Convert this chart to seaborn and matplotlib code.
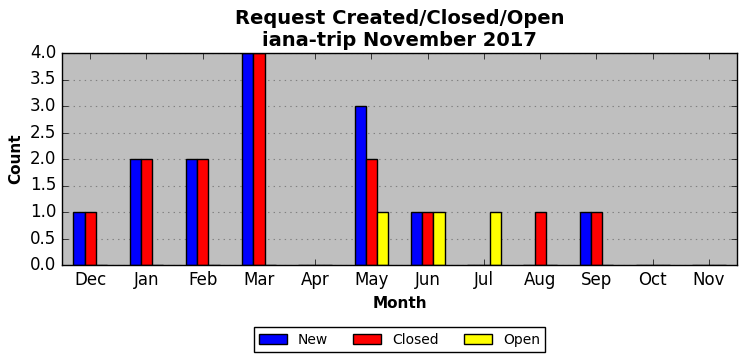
import pandas as pd
import matplotlib
matplotlib.use("Agg")
import matplotlib.pyplot as plt
import seaborn as sns

# Data
months = ["Dec", "Jan", "Feb", "Mar", "Apr", "May", "Jun", "Jul", "Aug", "Sep", "Oct", "Nov"]
new_counts = [1, 2, 2, 4, 0, 3, 1, 0, 0, 1, 0, 0]
closed_counts = [1, 2, 2, 4, 0, 2, 1, 0, 1, 1, 0, 0]
open_counts = [0, 0, 0, 0, 0, 1, 1, 1, 0, 0, 0, 0]
series = ["New", "Closed", "Open"]
colors = ["#0000ff", "#ff0000", "#ffff00"]

df = pd.DataFrame({"Month": months, "New": new_counts,
                   "Closed": closed_counts, "Open": open_counts})
long_df = df.melt(id_vars="Month", var_name="Status", value_name="Count")

plt.style.use("classic")
plt.rcParams["font.family"] = ["DejaVu Sans"]

fig = plt.figure(figsize=(7.46, 3.61), dpi=100)
ax = fig.add_axes([62 / 746, 1 - 265 / 361, (737 - 62) / 746, (265 - 53) / 361])
ax.set_facecolor("#bfbfbf")

sns.barplot(data=long_df, x="Month", y="Count", hue="Status", order=months,
            hue_order=series, palette=colors, width=0.6, saturation=1,
            edgecolor="black", linewidth=1, ax=ax, zorder=2)

ax.set_xlim(-0.5, len(months) - 0.5)
ax.set_ylim(0, 4)
ax.set_yticks([i * 0.5 for i in range(9)])
ax.yaxis.grid(True, linestyle=":", color="#808080", linewidth=0.8, zorder=0)
ax.set_axisbelow(True)
ax.tick_params(labelsize=12)

ax.set_title("Request Created/Closed/Open\niana-trip November 2017",
             fontsize=14, fontweight="bold")
ax.set_xlabel("Month", fontsize=11, fontweight="bold")
ax.set_ylabel("Count", fontsize=11, fontweight="bold")

ax.legend(loc="upper center", bbox_to_anchor=(0.5, -0.26), ncol=3,
          fontsize=10, frameon=True, fancybox=False, columnspacing=1.8)

plt.savefig("out.png", dpi=100)
